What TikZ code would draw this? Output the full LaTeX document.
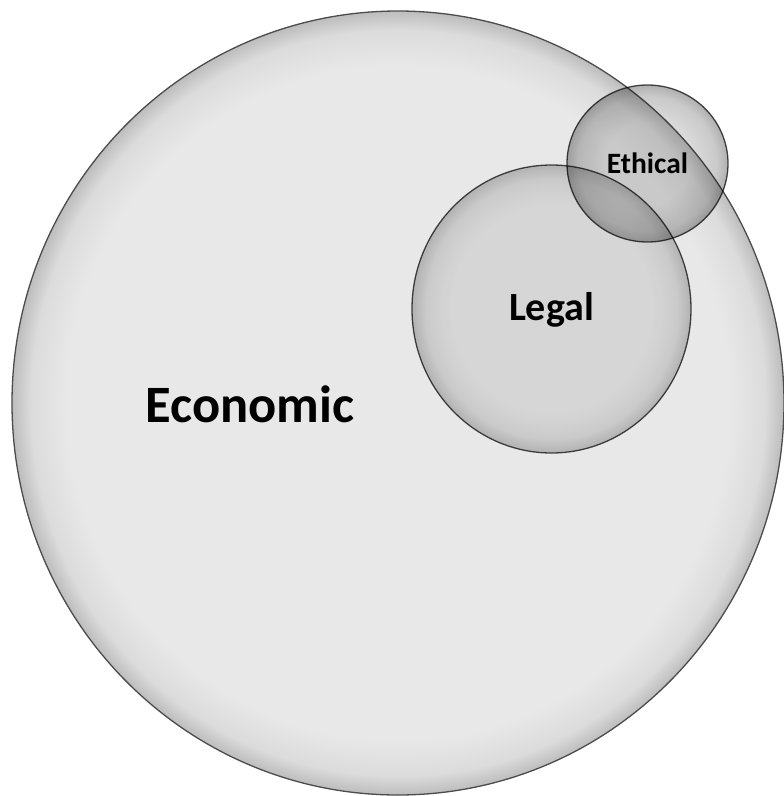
\documentclass[tikz,border=0pt]{standalone}
\usepackage{fontspec}
\setmainfont{Carlito}
\usetikzlibrary{shapes.geometric}
\definecolor{econin}{gray}{0.91}
\definecolor{econmid}{gray}{0.86}
\definecolor{econout}{gray}{0.74}
\definecolor{legin}{gray}{0.925}
\definecolor{legmid}{gray}{0.875}
\definecolor{legout}{gray}{0.77}
\definecolor{ethin}{gray}{0.87}
\definecolor{ethmid}{gray}{0.79}
\definecolor{ethout}{gray}{0.69}
\definecolor{rimline}{gray}{0.30}
\pgfdeclareradialshading{econsh}{\pgfpointorigin}{color(0bp)=(econin); color(21.5bp)=(econin); color(23.8bp)=(econmid); color(25bp)=(econout); color(50bp)=(econout)}
\pgfdeclareradialshading{legsh}{\pgfpointorigin}{color(0bp)=(legin); color(18bp)=(legin); color(22.5bp)=(legmid); color(25bp)=(legout); color(50bp)=(legout)}
\pgfdeclareradialshading{ethsh}{\pgfpointorigin}{color(0bp)=(ethin); color(13bp)=(ethin); color(21.5bp)=(ethmid); color(25bp)=(ethout); color(50bp)=(ethout)}
\tikzset{
  ring/.style={draw=rimline, line width=1.3pt, inner sep=0pt, outer sep=0pt, ellipse},
  lbl/.style={font=\bfseries, text=black, anchor=base, inner sep=0pt}
}
\begin{document}
\begin{tikzpicture}[x=1pt,y=-1pt]
\useasboundingbox (0,0) rectangle (784,796);
\fill[white] (0,0) rectangle (784,796);
\node[ring, minimum width=772pt, minimum height=784pt, shading=econsh] (econ) at (398,403) {};
\begin{scope}[blend mode=multiply]
\node[ring, minimum width=279pt, minimum height=288pt, shading=legsh] (legal) at (551.5,309) {};
\node[ring, minimum width=161pt, minimum height=157pt, shading=ethsh] (ethical) at (647.5,163.5) {};
\end{scope}
\node[lbl, font=\fontsize{52.5}{60}\selectfont\bfseries] (econlbl) at (250,422) {Economic};
\node[lbl, font=\fontsize{40}{46}\selectfont\bfseries] (legallbl) at (551.5,320) {Legal};
\node[lbl, font=\fontsize{29.5}{34}\selectfont\bfseries] (ethlbl) at (647.5,173) {Ethical};
\end{tikzpicture}
\end{document}
